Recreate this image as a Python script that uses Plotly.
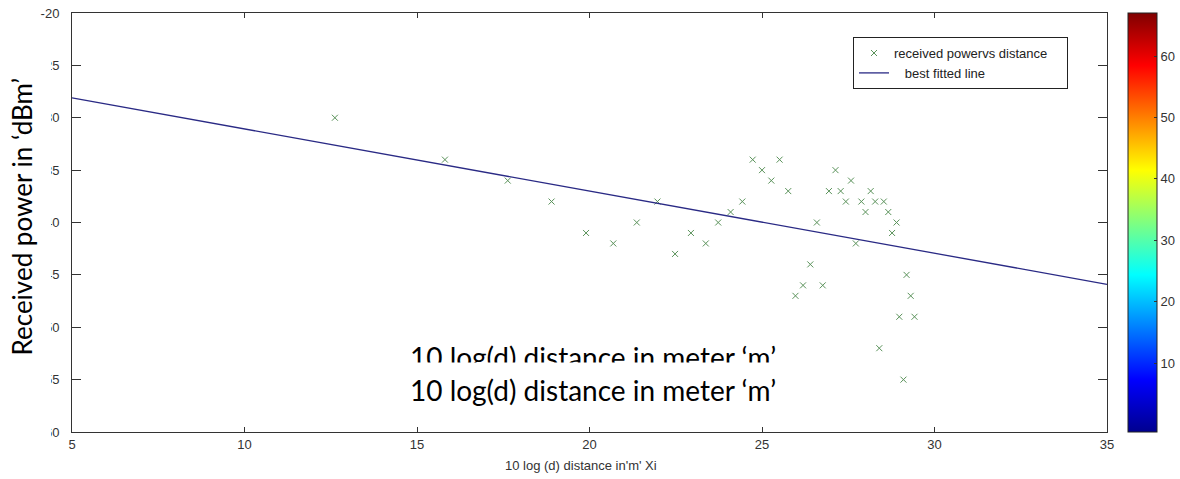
import plotly.graph_objects as go

# ---- data ----
dist_log = [12.62, 15.81, 17.63, 18.90, 19.90, 20.69, 21.37, 21.97, 22.48, 22.94,
            23.37, 23.73, 24.09, 24.43, 24.73, 25.00, 25.27, 25.51, 25.76, 25.97,
            26.19, 26.40, 26.59, 26.76, 26.94, 27.13, 27.28, 27.43, 27.58, 27.72,
            27.88, 28.00, 28.15, 28.28, 28.40, 28.53, 28.66, 28.77, 28.90, 28.98,
            29.10, 29.19, 29.31, 29.42]
power_dbm = [-30, -34, -36, -38, -41, -42, -40, -38, -43, -41,
             -42, -40, -39, -38, -34, -35, -36, -34, -37, -47,
             -46, -44, -40, -46, -37, -35, -37, -38, -36, -42,
             -38, -39, -37, -38, -52, -38, -39, -41, -40, -49,
             -55, -45, -47, -49]
fit_x = [5, 35]
fit_y = [-28.1, -45.9]

x_ticks = [5, 10, 15, 20, 25, 30, 35]
y_ticks = [-20, -25, -30, -35, -40, -45, -50, -55, -60]
y_ticktext = ["-20", "-25", "-30", "-35", "-40", "-45", "-50", "-55", "-60"]
cbar_ticks = [10, 20, 30, 40, 50, 60]
cbar_range = [-1.2, 67.0]

jet = [[0.0, "rgb(0,0,143)"], [0.125, "rgb(0,0,255)"], [0.375, "rgb(0,255,255)"],
       [0.625, "rgb(255,255,0)"], [0.875, "rgb(255,0,0)"], [1.0, "rgb(128,0,0)"]]

NARROW = "Liberation Sans Narrow, Arial Narrow, Liberation Sans, Arial, sans-serif"
SLIDE = "Lato, Carlito, Calibri, Open Sans, sans-serif"

fig = go.Figure()
fig.add_trace(go.Scatter(
    x=dist_log, y=power_dbm, mode="markers",
    name="received powervs distance\u00a0\u00a0\u00a0\u00a0",
    marker=dict(symbol="x-thin", size=6, line=dict(color="#5a925a", width=1), color="#5a925a"),
))
fig.add_trace(go.Scatter(
    x=fit_x, y=fit_y, mode="lines", name="\u00a0\u00a0\u00a0best fitted line",
    line=dict(color="#2a2a85", width=1.3),
))
fig.add_trace(go.Scatter(
    x=[None], y=[None], mode="markers", showlegend=False, hoverinfo="skip",
    marker=dict(color=cbar_range, cmin=cbar_range[0], cmax=cbar_range[1], colorscale=jet,
                showscale=True,
                colorbar=dict(x=1.0203, xanchor="left", xpad=0, y=0.5, yanchor="middle",
                              len=419, lenmode="pixels", thickness=29, ypad=0,
                              outlinecolor="#222", outlinewidth=1,
                              tickvals=cbar_ticks, ticks="inside", ticklen=3, tickcolor="#333",
                              tickfont=dict(family=NARROW, size=13, color="#333"))),
))

axis_common = dict(showgrid=False, zeroline=False, showline=True, linecolor="#333",
                   linewidth=1, mirror="ticks", ticks="inside", tickcolor="#333",
                   tickfont=dict(family=NARROW, size=13, color="#333"))

fig.update_xaxes(range=[5, 35], tickvals=x_ticks, ticklen=5, **axis_common)
fig.update_yaxes(range=[-60, -20], tickvals=y_ticks, ticktext=y_ticktext, ticklen=9,
                 ticklabelstandoff=9, **axis_common)

fig.update_layout(
    width=1180, height=479,
    margin=dict(l=72, r=73, t=13, b=47, autoexpand=False),
    paper_bgcolor="white", plot_bgcolor="white",
    showlegend=True,
    legend=dict(x=0.7546, y=0.9426, xanchor="left", yanchor="top",
                bordercolor="#222", borderwidth=1, bgcolor="white",
                font=dict(family=NARROW, size=13, color="#222"),
                tracegroupgap=0, itemwidth=30),
    shapes=[dict(type="rect", xref="paper", yref="paper", x0=-0.0696, x1=-0.0203,
                 y0=-0.115, y1=0.9785, fillcolor="white", line=dict(width=0), layer="above")],
    annotations=[
        dict(text="10 log (d) distance in'm' Xi", xref="paper", yref="paper",
             x=0.4918, y=-0.079, showarrow=False, xanchor="center", yanchor="middle",
             font=dict(family=NARROW, size=13, color="#333")),
        dict(text="Received power in \u2018dBm\u2019", xref="paper", yref="paper",
             x=-0.0483, y=0.5144, showarrow=False, textangle=-90,
             xanchor="center", yanchor="middle",
             font=dict(family=SLIDE, size=26, color="black")),
        dict(text="10 log(d) distance in meter \u2018m\u2019", xref="paper", yref="paper",
             x=0.503, y=0.18, showarrow=False, xanchor="center", yanchor="middle",
             font=dict(family=SLIDE, size=28, color="black")),
        dict(text="10 log(d) distance in meter \u2018m\u2019", xref="paper", yref="paper",
             x=0.503, y=0.1, showarrow=False, xanchor="center", yanchor="middle",
             bgcolor="white", borderpad=10,
             font=dict(family=SLIDE, size=28, color="black")),
    ],
)

fig.write_html("out.html", config={"displayModeBar": False},
               post_script="document.body.style.margin='0';document.body.style.padding='0';")
